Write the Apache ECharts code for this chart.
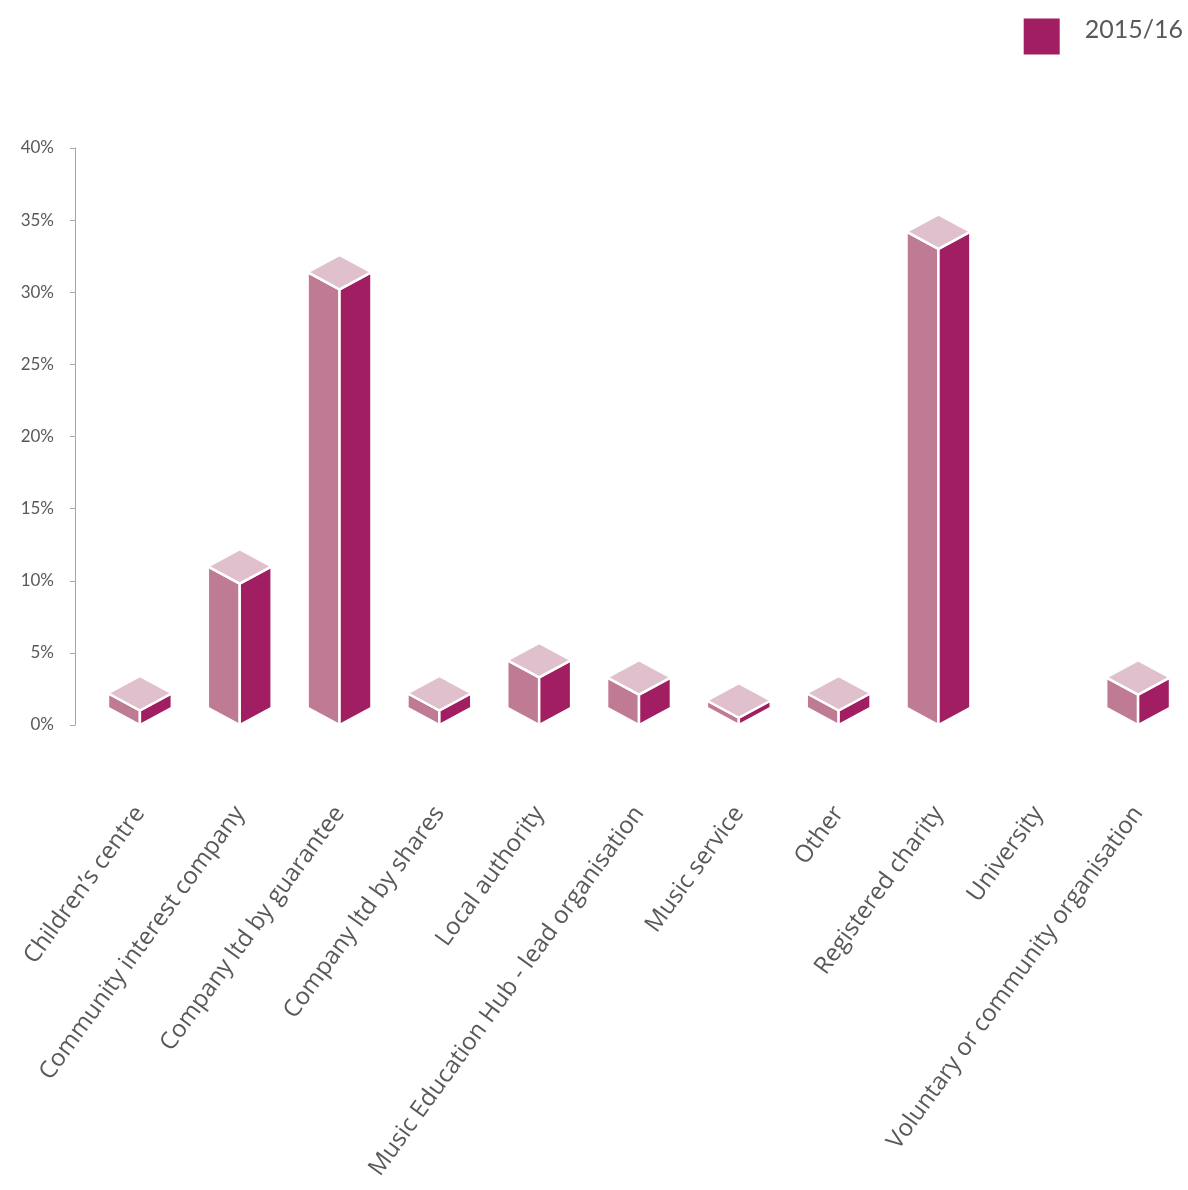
<!DOCTYPE html>
<html>
<head>
<meta charset="utf-8">
<script src="https://cdn.jsdelivr.net/npm/echarts@6/dist/echarts.min.js"></script>
<style>html,body{margin:0;padding:0;background:#fff}#c{width:1188px;height:1190px}</style>
</head>
<body>
<div id="c"></div>
<script>
const categories = ["Children\u2019s centre","Community interest company","Company ltd by guarantee","Company ltd by shares","Local authority","Music Education Hub - lead organisation","Music service","Other","Registered charity","University","Voluntary or community organisation"];
const values2015 = [2.2, 11.0, 31.4, 2.2, 4.5, 3.3, 1.7, 2.2, 34.2, 0, 3.3];
const yTicks = [0, 5, 10, 15, 20, 25, 30, 35, 40];
const seriesName = "2015/16";

const chart = echarts.init(document.getElementById('c'));
const FONT = '"Open Sans", Lato, sans-serif';
chart.setOption({
  backgroundColor: '#fff',
  animation: false,
  legend: {
    right: 0, top: 12,
    itemWidth: 36, itemHeight: 36, itemGap: 10,
    icon: 'rect',
    formatter: '{t|{name}}',
    textStyle: {
      fontSize: 25, color: '#595959', fontFamily: 'Lato, sans-serif',
      rich: {t: {fontSize: 25, color: '#595959', fontFamily: 'Lato, sans-serif', padding: [0, 0, 14, 20]}}
    },
    data: [seriesName]
  },
  grid: {left: 90, width: 1100, top: 148, bottom: 465, containLabel: false},
  xAxis: {
    type: 'category', data: categories,
    axisLine: {show: false}, axisTick: {show: false},
    axisLabel: {rotate: 54, interval: 0, margin: 84, fontSize: 24, color: '#595959', fontFamily: FONT}
  },
  yAxis: {
    type: 'value', min: yTicks[0], max: yTicks[yTicks.length-1], interval: 5,
    offset: 15,
    axisLine: {show: true, lineStyle: {color: '#a6a6a6', width: 1}},
    axisTick: {show: true, length: 5, lineStyle: {color: '#a6a6a6'}},
    splitLine: {show: false},
    axisLabel: {formatter: '{value}%', margin: 21, fontSize: 17, color: '#595959', fontFamily: 'Lato, sans-serif'}
  },
  series: [{
    name: seriesName,
    type: 'custom',
    itemStyle: {color: '#a21e63'},
    data: values2015.map((v, i) => [i, v]),
    renderItem: function (params, api) {
      const i = api.value(0), v = api.value(1);
      if (!v) return null;
      const base = api.coord([i, 0]);
      const top = api.coord([i, v]);
      const band = api.size([1, 0])[0];
      const w = band * 0.32, dy = w * 0.54;
      const cx = base[0], y0 = base[1], yv = top[1];
      const stroke = {stroke: '#fff', lineWidth: 2.5, lineJoin: 'round'};
      const L0 = [cx - w, y0 - dy], F0 = [cx, y0], R0 = [cx + w, y0 - dy];
      const L1 = [cx - w, yv], F1 = [cx, yv + dy], R1 = [cx + w, yv], B1 = [cx, yv - dy];
      return {
        type: 'group',
        children: [
          {type: 'polygon', shape: {points: [L0, F0, F1, L1]}, style: Object.assign({fill: '#c07b94'}, stroke)},
          {type: 'polygon', shape: {points: [F0, R0, R1, F1]}, style: Object.assign({fill: '#a21e63'}, stroke)},
          {type: 'polygon', shape: {points: [L1, F1, R1, B1]}, style: Object.assign({fill: '#dfc0cc'}, stroke)}
        ]
      };
    }
  }]
});
</script>
</body>
</html>
